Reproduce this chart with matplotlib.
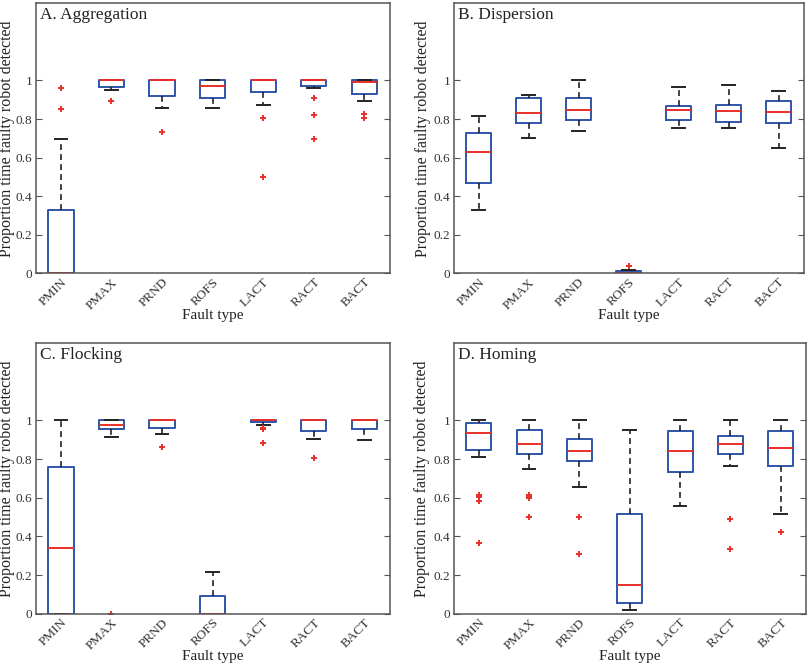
import matplotlib
matplotlib.use('Agg')
import matplotlib.pyplot as plt
from matplotlib.transforms import ScaledTranslation

plt.rcParams['font.family'] = ['Liberation Serif', 'DejaVu Serif']

faults = ['PMIN', 'PMAX', 'PRND', 'ROFS', 'LACT', 'RACT', 'BACT']
yticks = [0, 0.2, 0.4, 0.6, 0.8, 1]
yticklabels = ['0', '0.2', '0.4', '0.6', '0.8', '1']

# each panel: q1, median, q3, whisker low, whisker high, outliers
titles = ['A. Aggregation', 'B. Dispersion', 'C. Flocking', 'D. Homing']

agg_q1 = [0, 0.965, 0.920, 0.910, 0.938, 0.969, 0.929]
agg_med = [0, 1, 1, 0.972, 1, 1, 0.993]
agg_q3 = [0.329, 1, 1, 1, 1, 1, 1]
agg_lo = [0, 0.948, 0.858, 0.855, 0.872, 0.962, 0.896]
agg_hi = [0.699, 1, 1, 1, 1, 1, 1]
agg_out = [[0.962, 0.851], [0.896], [0.734], [], [0.803, 0.500],
           [0.910, 0.820, 0.696], [0.824, 0.803]]

dis_q1 = [0.467, 0.779, 0.794, 0, 0.796, 0.787, 0.780]
dis_med = [0.631, 0.829, 0.848, 0.003, 0.846, 0.843, 0.834]
dis_q3 = [0.730, 0.907, 0.907, 0.010, 0.867, 0.875, 0.896]
dis_lo = [0.330, 0.704, 0.739, 0, 0.751, 0.753, 0.649]
dis_hi = [0.818, 0.927, 1.0, 0.018, 0.965, 0.976, 0.943]
dis_out = [[], [], [], [0.036], [], [], []]

flo_q1 = [0, 0.955, 0.962, 0, 0.990, 0.947, 0.955]
flo_med = [0.338, 0.979, 1, 0, 1, 1, 1]
flo_q3 = [0.759, 1, 1, 0.090, 1, 1, 1]
flo_lo = [0, 0.914, 0.931, 0, 0.979, 0.903, 0.900]
flo_hi = [1, 1, 1, 0.217, 1, 1, 1]
flo_out = [[], [0], [0.862], [], [0.962, 0.955, 0.883], [0.808], []]

hom_q1 = [0.845, 0.824, 0.788, 0.055, 0.733, 0.828, 0.764]
hom_med = [0.933, 0.879, 0.841, 0.150, 0.840, 0.879, 0.857]
hom_q3 = [0.988, 0.952, 0.905, 0.514, 0.948, 0.921, 0.945]
hom_lo = [0.810, 0.748, 0.657, 0.021, 0.555, 0.766, 0.516]
hom_hi = [1, 1, 1, 0.952, 1, 1, 1]
hom_out = [[0.617, 0.603, 0.586, 0.366], [0.614, 0.603, 0.597, 0.5],
           [0.5, 0.309], [], [], [0.490, 0.333], [0.422]]

panels = [
    (agg_q1, agg_med, agg_q3, agg_lo, agg_hi, agg_out),
    (dis_q1, dis_med, dis_q3, dis_lo, dis_hi, dis_out),
    (flo_q1, flo_med, flo_q3, flo_lo, flo_hi, flo_out),
    (hom_q1, hom_med, hom_q3, hom_lo, hom_hi, hom_out),
]

positions = [
    [0.044, 0.589, 0.437, 0.406],
    [0.560, 0.589, 0.432, 0.406],
    [0.044, 0.077, 0.437, 0.407],
    [0.560, 0.077, 0.435, 0.407],
]
ylab_x = [-0.058, -0.066, -0.058, -0.066]

box_col = '#2f55a8'
fig = plt.figure(figsize=(8.1, 6.65), dpi=100)
shift = ScaledTranslation(0.045, 0, fig.dpi_scale_trans)

for k in range(4):
    q1, med, q3, lo, hi, out = panels[k]
    ax = fig.add_axes(positions[k])
    stats = []
    for i in range(len(faults)):
        stats.append({'q1': q1[i], 'med': med[i], 'q3': q3[i],
                      'whislo': lo[i], 'whishi': hi[i], 'fliers': out[i]})
    ax.bxp(stats, positions=range(1, 8), widths=0.5, capwidths=0.25,
           boxprops=dict(color=box_col, linewidth=1.4),
           medianprops=dict(color='#e8302a', linewidth=1.4),
           whiskerprops=dict(color='#222222', linestyle=(0, (3.5, 2.5)), linewidth=1.2),
           capprops=dict(color='#222222', linewidth=1.4),
           flierprops=dict(marker='+', markeredgecolor='#e8302a', markersize=5,
                           markeredgewidth=1.4, linestyle='none'))
    ax.set_xlim(0.5, 7.5)
    ax.set_ylim(0, 1.4)
    ax.set_yticks(yticks)
    ax.set_yticklabels(yticklabels, fontsize=9.5, color='#333333')
    ax.set_xticks(range(1, 8))
    ax.set_xticklabels(faults, rotation=45, ha='right', rotation_mode='anchor',
                       fontsize=9.5, color='#333333')
    for lbl in ax.get_xticklabels():
        lbl.set_transform(lbl.get_transform() + shift)
    ax.tick_params(direction='in', top=True, right=True, length=4, color='#555555')
    ax.tick_params(axis='y', pad=2.5)
    ax.tick_params(axis='x', length=0, pad=2)
    for s in ax.spines.values():
        s.set_color('#555555')
        s.set_linewidth(1.1)
    ax.set_xlabel('Fault type', fontsize=11, color='#222222')
    ax.xaxis.set_label_coords(0.5, -0.133)
    ax.set_ylabel('Proportion time faulty robot detected', fontsize=11.5,
                  color='#222222')
    ax.yaxis.set_label_coords(ylab_x[k], 0.5)
    ax.text(0.012, 0.985, titles[k], transform=ax.transAxes, fontsize=12.5,
            va='top', ha='left', color='#222222')

fig.savefig('out.png', dpi=100)
